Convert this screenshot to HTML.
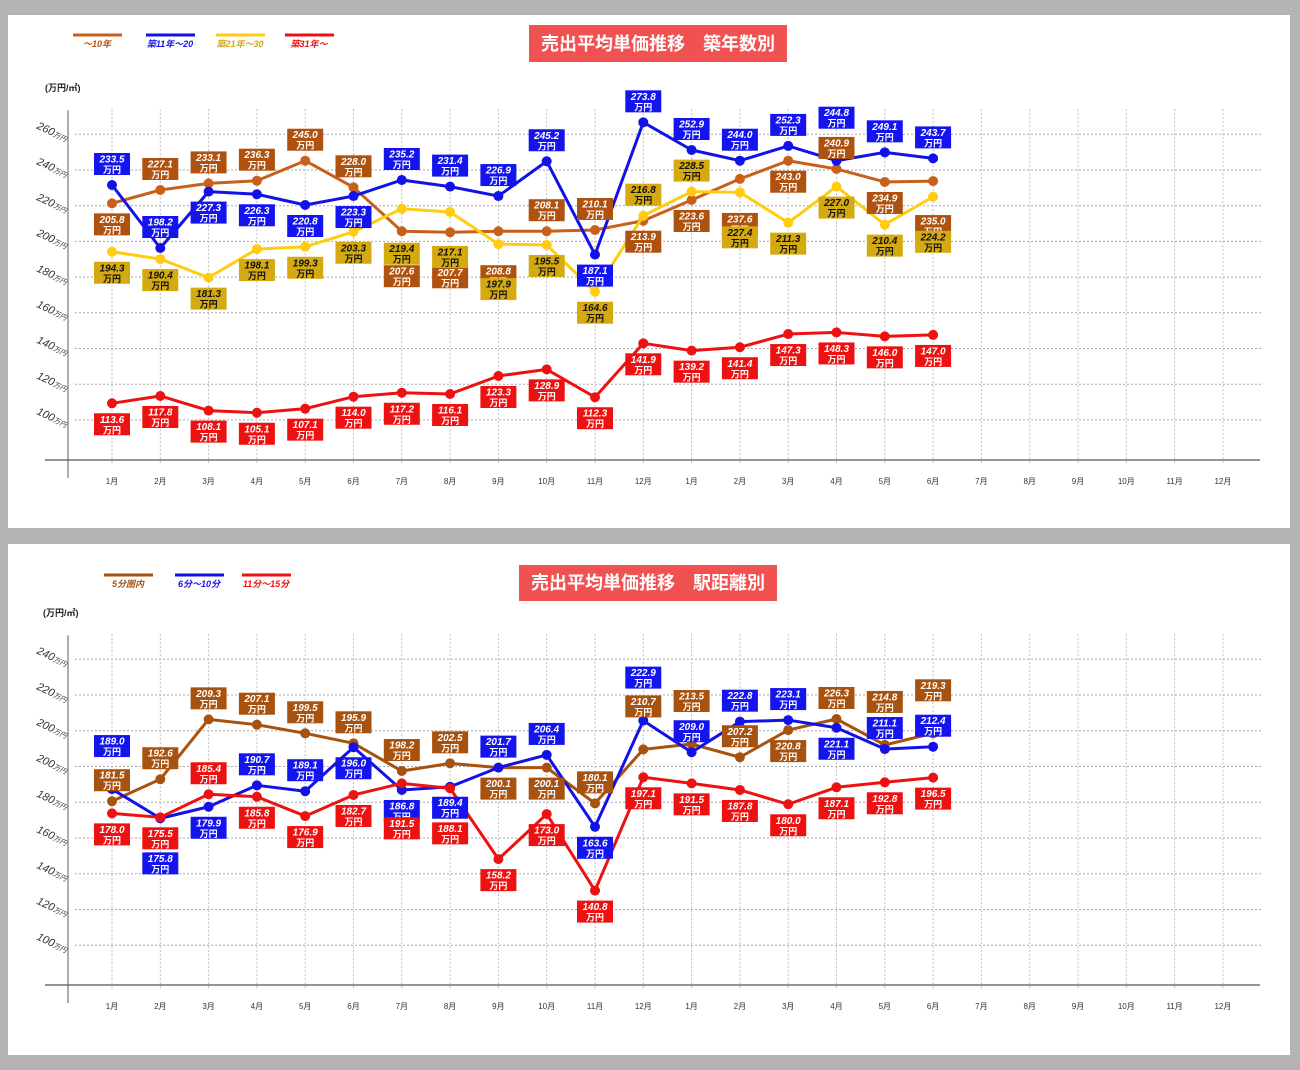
<!DOCTYPE html>
<html><head><meta charset="utf-8"><style>
body{margin:0;background:#b4b4b4;width:1300px;height:1070px;overflow:hidden;}
svg{display:block;font-family:"Liberation Sans","Noto Sans CJK JP",sans-serif;}
</style></head><body>
<svg id="s" width="1300" height="1070" viewBox="0 0 1300 1070">
<rect x="0" y="0" width="1300" height="1070" fill="#b4b4b4"/>
<rect x="8" y="15" width="1282" height="513" fill="#fff"/>
<rect x="8" y="544" width="1282" height="511" fill="#fff"/>
<g><rect x="529" y="25" width="258" height="37" fill="#f05252"/><text x="658" y="50" text-anchor="middle" font-size="18" font-weight="bold" fill="#fff">売出平均単価推移　築年数別</text></g>
<g><rect x="519" y="565" width="258" height="36" fill="#f05252"/><text x="648" y="589" text-anchor="middle" font-size="18" font-weight="bold" fill="#fff">売出平均単価推移　駅距離別</text></g>
<text x="45" y="91" font-size="9" font-weight="bold" fill="#222">(万円/㎡)</text>
<text x="43" y="616" font-size="9" font-weight="bold" fill="#222">(万円/㎡)</text>
<g id="c1"></g><g id="c2"></g>
</svg>
<script>
const months=["1月","2月","3月","4月","5月","6月","7月","8月","9月","10月","11月","12月","1月","2月","3月","4月","5月","6月","7月","8月","9月","10月","11月","12月"];
// chart 1 (age)
const ticks1=[260,240,220,200,180,160,140,120,100];
const names1=["～10年","築11年～20","築21年～30","築31年～"];
const brown1=[221.3,228.8,232.5,234.0,245.2,230.3,205.7,205.1,205.7,205.7,206.4,211.6,223.2,235.0,245.2,240.6,233.3,233.8];
const blue1=[231.6,196.3,227.9,226.4,220.4,225.4,234.4,230.7,225.4,244.9,192.6,266.7,251.2,245.2,253.5,245.2,249.9,246.5];
const yellow1=[194.2,190.1,179.7,195.7,197.0,205.4,218.3,216.5,198.5,198.0,171.8,214.4,227.9,227.5,210.5,230.7,209.4,225.0];
const red1=[109.3,113.4,105.2,104.0,106.3,113.0,115.2,114.5,124.6,128.3,112.7,142.9,138.8,140.7,148.1,149.0,146.8,147.6];
const brownLbl1=["205.8","227.1","233.1","236.3","245.0","228.0","207.6","207.7","208.8","208.1","210.1","213.9","223.6","237.6","243.0","240.9","234.9","235.0"];
const blueLbl1=["233.5","198.2","227.3","226.3","220.8","223.3","235.2","231.4","226.9","245.2","187.1","273.8","252.9","244.0","252.3","244.8","249.1","243.7"];
const yellowLbl1=["194.3","190.4","181.3","198.1","199.3","203.3","219.4","217.1","197.9","195.5","164.6","216.8","228.5","227.4","211.3","227.0","210.4","224.2"];
const redLbl1=["113.6","117.8","108.1","105.1","107.1","114.0","117.2","116.1","123.3","128.9","112.3","141.9","139.2","141.4","147.3","148.3","146.0","147.0"];
const brownSide1=['d','u','u','u','u','u','d2','d2','d2','u','u','d','d','d2','d','u','d','d2'];
const blueSide1=['u','u','d','d','d','d','u','u','u','u','d','u','u','u','u','u2','u','u'];
const yellowSide1=['d','d','d','d','d','d','d2','d2','d2','d','d','u','u','d2','d','d','d','d2'];
const redSide1=['d','d','d','d','d','d','d','d','d','d','d','d','d','d','d','d','d','d'];
// chart 2 (distance)
const ticks2=[240,220,200,200,180,160,140,120,100];
const names2=["5分圏内","6分～10分","11分～15分"];
const brown2=[160.6,172.9,206.4,203.4,198.6,193.0,177.5,181.8,179.4,179.4,159.4,189.6,192.6,185.2,200.4,206.6,192.1,198.6];
const blue2=[167.4,151.0,157.5,169.5,166.2,190.8,166.9,168.7,179.4,186.5,146.3,205.7,188.0,205.1,206.0,201.7,189.8,191.1];
const red2=[153.8,151.6,164.5,163.1,152.3,164.1,170.6,167.8,128.2,153.4,110.6,174.0,170.6,166.9,158.9,168.4,171.2,173.8];
const brownLbl2=["181.5","192.6","209.3","207.1","199.5","195.9","198.2","202.5","200.1","200.1","180.1","210.7","213.5","207.2","220.8","226.3","214.8","219.3"];
const blueLbl2=["189.0","175.8","179.9","190.7","189.1","196.0","186.8","189.4","201.7","206.4","163.6","222.9","209.0","222.8","223.1","221.1","211.1","212.4"];
const redLbl2=["178.0","175.5","185.4","185.8","176.9","182.7","191.5","188.1","158.2","173.0","140.8","197.1","191.5","187.8","180.0","187.1","192.8","196.5"];
const brownSide2=['u','u','u','u','u','u','u','u','d','d','u','u2','u2','u','d','u','u2','u2'];
const blueSide2=['u2','d2','d','u','u','d','d','d','u','u','d','u2','u','u','u','d','u','u'];
const redSide2=['d','d','u','d','d','d','d2','d2','d','d','d','d','d','d','d','d','d','d'];

const NS="http://www.w3.org/2000/svg";
function mk(parent,tag,attrs){const e=document.createElementNS(NS,tag);for(const k in attrs)e.setAttribute(k,attrs[k]);parent.appendChild(e);return e;}
function xScale(i){return 112+i*48.3;}

function drawChart(g,cfg){
  const y=v=>cfg.top+(cfg.vmax-v)*cfg.step/20;
  // grid
  for(let i=0;i<cfg.ticks.length;i++){
    const gy=cfg.top+i*cfg.step;
    const l=mk(g,'line',{x1:75,x2:1262,y1:gy,y2:gy,stroke:'#aaa','stroke-width':1,'stroke-dasharray':'2,2'});
    
    
    const t=mk(g,'text',{transform:`translate(36,${gy-6}) rotate(25)`,'font-size':11,fill:'#333','font-style':'italic'});
    
    
    t.textContent=cfg.ticks[i];
    const u=mk(t,'tspan',{'font-size':7});u.textContent='万円';
  }
  for(let i=0;i<months.length;i++){
    const gx=xScale(i);
    const l=mk(g,'line',{x1:gx,x2:gx,y1:cfg.top-25,y2:cfg.axisY+5,stroke:'#bbb','stroke-width':1,'stroke-dasharray':'2,2'});
    
    
    const t=mk(g,'text',{x:gx,y:cfg.axisY+24,'font-size':8,fill:'#333','text-anchor':'middle'});
    
    
    t.textContent=months[i];
  }
  const ax=mk(g,'line',{x1:68,x2:68,y1:cfg.top-24,y2:cfg.axisY+18,stroke:'#777','stroke-width':1.2});
  
  
  const ax2=mk(g,'line',{x1:45,x2:1260,y1:cfg.axisY,y2:cfg.axisY,stroke:'#555','stroke-width':1.2});
  
  
  // legend
  cfg.series.forEach((s,k)=>{
    const lx=cfg.legX[k];
    const l=mk(g,'line',{x1:lx,x2:lx+49,y1:cfg.legY,y2:cfg.legY,stroke:s.line,'stroke-width':3});
    
    
    const t=mk(g,'text',{x:lx+24,y:cfg.legY+12,'font-size':9,'font-weight':'bold','font-style':'italic',fill:s.legText,'text-anchor':'middle'});
    
    
    t.textContent=s.name;
  });
  // series lines & points
  cfg.series.forEach(s=>{
    const pts=s.vals.map((v,i)=>xScale(i)+','+y(v)).join(' ');
    const pl=mk(g,'polyline',{points:pts,fill:'none',stroke:s.line,'stroke-width':3,'stroke-linejoin':'round'});
    
    
    s.vals.forEach((v,i)=>{
      const c=mk(g,'circle',{cx:xScale(i),cy:y(v),r:5,fill:s.line});
      
      
    });
  });
  // labels
  cfg.series.forEach(s=>{
    s.vals.forEach((v,i)=>{
      const side=s.side[i];
      const off=side==='u'?-21:side==='u2'?-43:side==='d'?21:45;
      const cy=y(v)+off, cx=xScale(i);
      const lg=mk(g,'g',{});
      
      
      mk(lg,'rect',{x:cx-18,y:cy-11,width:36,height:22,fill:s.box});
      const t1=mk(lg,'text',{x:cx,y:cy-1.5,'font-size':10,'font-weight':'bold','font-style':'italic',fill:s.txt,'text-anchor':'middle'});
      t1.textContent=s.lbl[i];
      const t2=mk(lg,'text',{x:cx,y:cy+9,'font-size':9,'font-weight':'bold',fill:s.txt,'text-anchor':'middle'});
      t2.textContent='万円';
    });
  });
}

drawChart(document.getElementById('c1'),{top:134.3,step:35.7,vmax:260,ticks:ticks1,axisY:460,legY:35,legX:[73,146,216,285],
 series:[
  {name:names1[0],vals:brown1,lbl:brownLbl1,side:brownSide1,line:'#c8601a',box:'#b0520f',txt:'#fff',legText:'#b0520f'},
  {name:names1[1],vals:blue1,lbl:blueLbl1,side:blueSide1,line:'#1212e6',box:'#1414ee',txt:'#fff',legText:'#1414ee'},
  {name:names1[2],vals:yellow1,lbl:yellowLbl1,side:yellowSide1,line:'#ffcc11',box:'#d4aa10',txt:'#111',legText:'#d4aa10'},
  {name:names1[3],vals:red1,lbl:redLbl1,side:redSide1,line:'#ee1111',box:'#ee1111',txt:'#fff',legText:'#ee1111'}
 ]});
drawChart(document.getElementById('c2'),{top:659.3,step:35.75,vmax:240,ticks:ticks2,axisY:985,legY:575,legX:[104,175,242],
 series:[
  {name:names2[0],vals:brown2,lbl:brownLbl2,side:brownSide2,line:'#a8520f',box:'#a8520f',txt:'#fff',legText:'#a8520f'},
  {name:names2[1],vals:blue2,lbl:blueLbl2,side:blueSide2,line:'#1212e6',box:'#1414ee',txt:'#fff',legText:'#1414ee'},
  {name:names2[2],vals:red2,lbl:redLbl2,side:redSide2,line:'#ee1111',box:'#ee1111',txt:'#fff',legText:'#ee1111'}
 ]});
</script>
</body></html>
